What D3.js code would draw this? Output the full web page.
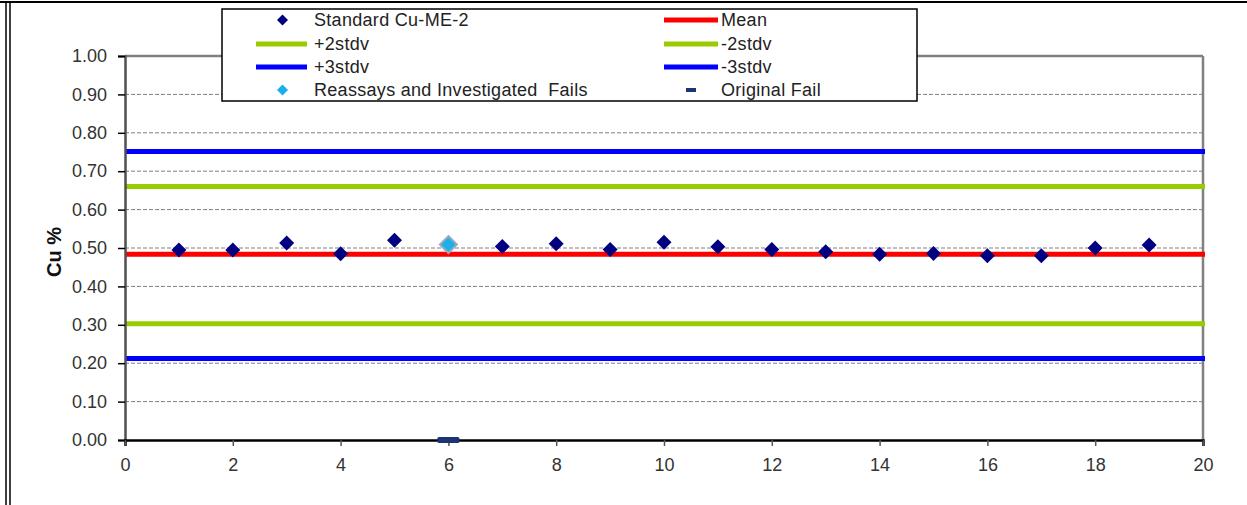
<!DOCTYPE html>
<html><head><meta charset="utf-8">
<script src="https://cdn.jsdelivr.net/npm/d3@7"></script>
<style>
html,body{margin:0;padding:0;background:#fff;}
svg{display:block;font-family:"Liberation Sans",Arial,sans-serif;}
</style></head>
<body>
<svg id="c" width="1247" height="505"></svg>
<script>
// ---- data ----
const sampleNo = [1,2,3,4,5,6,7,8,9,10,11,12,13,14,15,16,17,18,19];
const standardCu = [0.495,0.495,0.513,0.485,0.520,null,0.504,0.511,0.496,0.515,0.503,0.496,0.490,0.484,0.486,0.480,0.480,0.500,0.508];
const reassayX = [6];
const reassayCu = [0.509];
const originalFailX = [6];
const originalFailCu = [0.0];
const limitNames = ["+3stdv","+2stdv","Mean","-2stdv","-3stdv"];
const limitValues = [0.751,0.660,0.484,0.303,0.212];
const limitColors = ["#0000FF","#99CC00","#FF0000","#99CC00","#0000FF"];
const yTicks = [0,0.1,0.2,0.3,0.4,0.5,0.6,0.7,0.8,0.9,1.0];
const xTicks = [0,2,4,6,8,10,12,14,16,18,20];
const legendItems = [
  {label:"Standard Cu-ME-2", type:"diamond", color:"#000080", col:0, row:0},
  {label:"Mean", type:"line", color:"#FF0000", col:1, row:0},
  {label:"+2stdv", type:"line", color:"#99CC00", col:0, row:1},
  {label:"-2stdv", type:"line", color:"#99CC00", col:1, row:1},
  {label:"+3stdv", type:"line", color:"#0000FF", col:0, row:2},
  {label:"-3stdv", type:"line", color:"#0000FF", col:1, row:2},
  {label:"Reassays and Investigated  Fails", type:"diamondLight", color:"#1AB0EC", col:0, row:3},
  {label:"Original Fail", type:"dash", color:"#1C3473", col:1, row:3}
];

const svg = d3.select("#c");
const L=125, R=1203, T=56, B=440;
const x = d3.scaleLinear().domain([0,20]).range([L,R]);
const y = d3.scaleLinear().domain([0,1]).range([B,T]);

// outer frame
svg.append("line").attr("x1",0).attr("x2",1247).attr("y1",2).attr("y2",2).attr("stroke","#000").attr("stroke-width",2);
svg.append("line").attr("x1",6).attr("x2",6).attr("y1",2).attr("y2",505).attr("stroke","#000").attr("stroke-width",1.5);
svg.append("line").attr("x1",10).attr("x2",10).attr("y1",2).attr("y2",505).attr("stroke","#000").attr("stroke-width",1.5);

// gridlines
svg.append("g").selectAll("line").data(yTicks.filter(d=>d>0&&d<1)).join("line")
  .attr("x1",L).attr("x2",R).attr("y1",d=>y(d)).attr("y2",d=>y(d))
  .attr("stroke","#808080").attr("stroke-width",1).attr("stroke-dasharray","4,2");

// plot frame top/right
svg.append("line").attr("x1",L).attr("x2",R).attr("y1",T).attr("y2",T).attr("stroke","#808080").attr("stroke-width",2.5);
svg.append("line").attr("x1",R).attr("x2",R).attr("y1",T).attr("y2",B).attr("stroke","#808080").attr("stroke-width",2.5);

// limit lines
svg.append("g").selectAll("line").data(limitValues).join("line")
  .attr("x1",L).attr("x2",R+2).attr("y1",d=>y(d)).attr("y2",d=>y(d))
  .attr("stroke",(d,i)=>limitColors[i]).attr("stroke-width",5);

// y axis
const yAxis = d3.axisLeft(y).tickValues(yTicks).tickFormat(d3.format(".2f")).tickSize(7).tickPadding(11);
const gy = svg.append("g").attr("transform",`translate(${L},0)`).call(yAxis);
gy.select(".domain").attr("stroke","#505050").attr("stroke-width",2.5);
gy.selectAll(".tick line").attr("stroke","#000").attr("stroke-width",1.5);
gy.selectAll(".tick text").attr("font-size",18).attr("fill","#333").attr("font-family","Liberation Sans, Arial, sans-serif");

// x axis
const xAxis = d3.axisBottom(x).tickValues(xTicks).tickSize(6).tickPadding(12);
const gx = svg.append("g").attr("transform",`translate(0,${B})`).call(xAxis);
gx.select(".domain").attr("stroke","#000").attr("stroke-width",2.5);
gx.selectAll(".tick line").attr("stroke","#555").attr("stroke-width",1.5);
gx.selectAll(".tick text").attr("font-size",18).attr("fill","#333").attr("font-family","Liberation Sans, Arial, sans-serif");

// y title
svg.append("text").attr("transform",`translate(61,252) rotate(-90)`).attr("text-anchor","middle")
  .attr("font-size",20).attr("font-weight","bold").attr("fill","#111").text("Cu %");

// diamonds
const diamond = (cx,cy,r)=>`M${cx},${cy-r}L${cx+r},${cy}L${cx},${cy+r}L${cx-r},${cy}Z`;
const pts = sampleNo.map((s,i)=>({x:s,v:standardCu[i]})).filter(d=>d.v!=null);
svg.append("g").selectAll("path").data(pts).join("path")
  .attr("d",d=>diamond(x(d.x),y(d.v),7.5)).attr("fill","#000080");
svg.append("g").selectAll("path").data(reassayX.map((s,i)=>({x:s,v:reassayCu[i]}))).join("path")
  .attr("d",d=>diamond(x(d.x),y(d.v),8.5)).attr("fill","#1AB0EC").attr("stroke","#9aaabb").attr("stroke-width",2);
// original fail dash
svg.append("g").selectAll("rect").data(originalFailX.map((s,i)=>({x:s,v:originalFailCu[i]}))).join("rect")
  .attr("x",d=>x(d.x)-11).attr("y",d=>y(d.v)-3).attr("width",22).attr("height",6).attr("rx",1.5).attr("fill","#1C3473");

// legend
const lg = svg.append("g");
lg.append("rect").attr("x",222).attr("y",9).attr("width",695).attr("height",92).attr("fill","#fff").attr("stroke","#000").attr("stroke-width",1.5);
const colX = [[256,307,314],[664,718,721]];
const rowY = [20,44,67,90];
legendItems.forEach(it=>{
  const [x1,x2,tx] = colX[it.col];
  const cy = rowY[it.row];
  const cx = (x1+x2)/2;
  if(it.type==="line"){
    lg.append("line").attr("x1",x1).attr("x2",x2).attr("y1",cy).attr("y2",cy).attr("stroke",it.color).attr("stroke-width",5);
  } else if(it.type==="diamond" || it.type==="diamondLight"){
    lg.append("path").attr("d",diamond(cx+1,cy,5.5)).attr("fill",it.color);
  } else if(it.type==="dash"){
    lg.append("rect").attr("x",cx-5).attr("y",cy-2).attr("width",10).attr("height",4).attr("fill",it.color);
  }
  lg.append("text").attr("x",tx).attr("y",cy+6).attr("font-size",18).attr("fill","#222")
    .attr("letter-spacing",0.3).attr("xml:space","preserve").style("white-space","pre").text(it.label);
});
</script>
</body></html>
